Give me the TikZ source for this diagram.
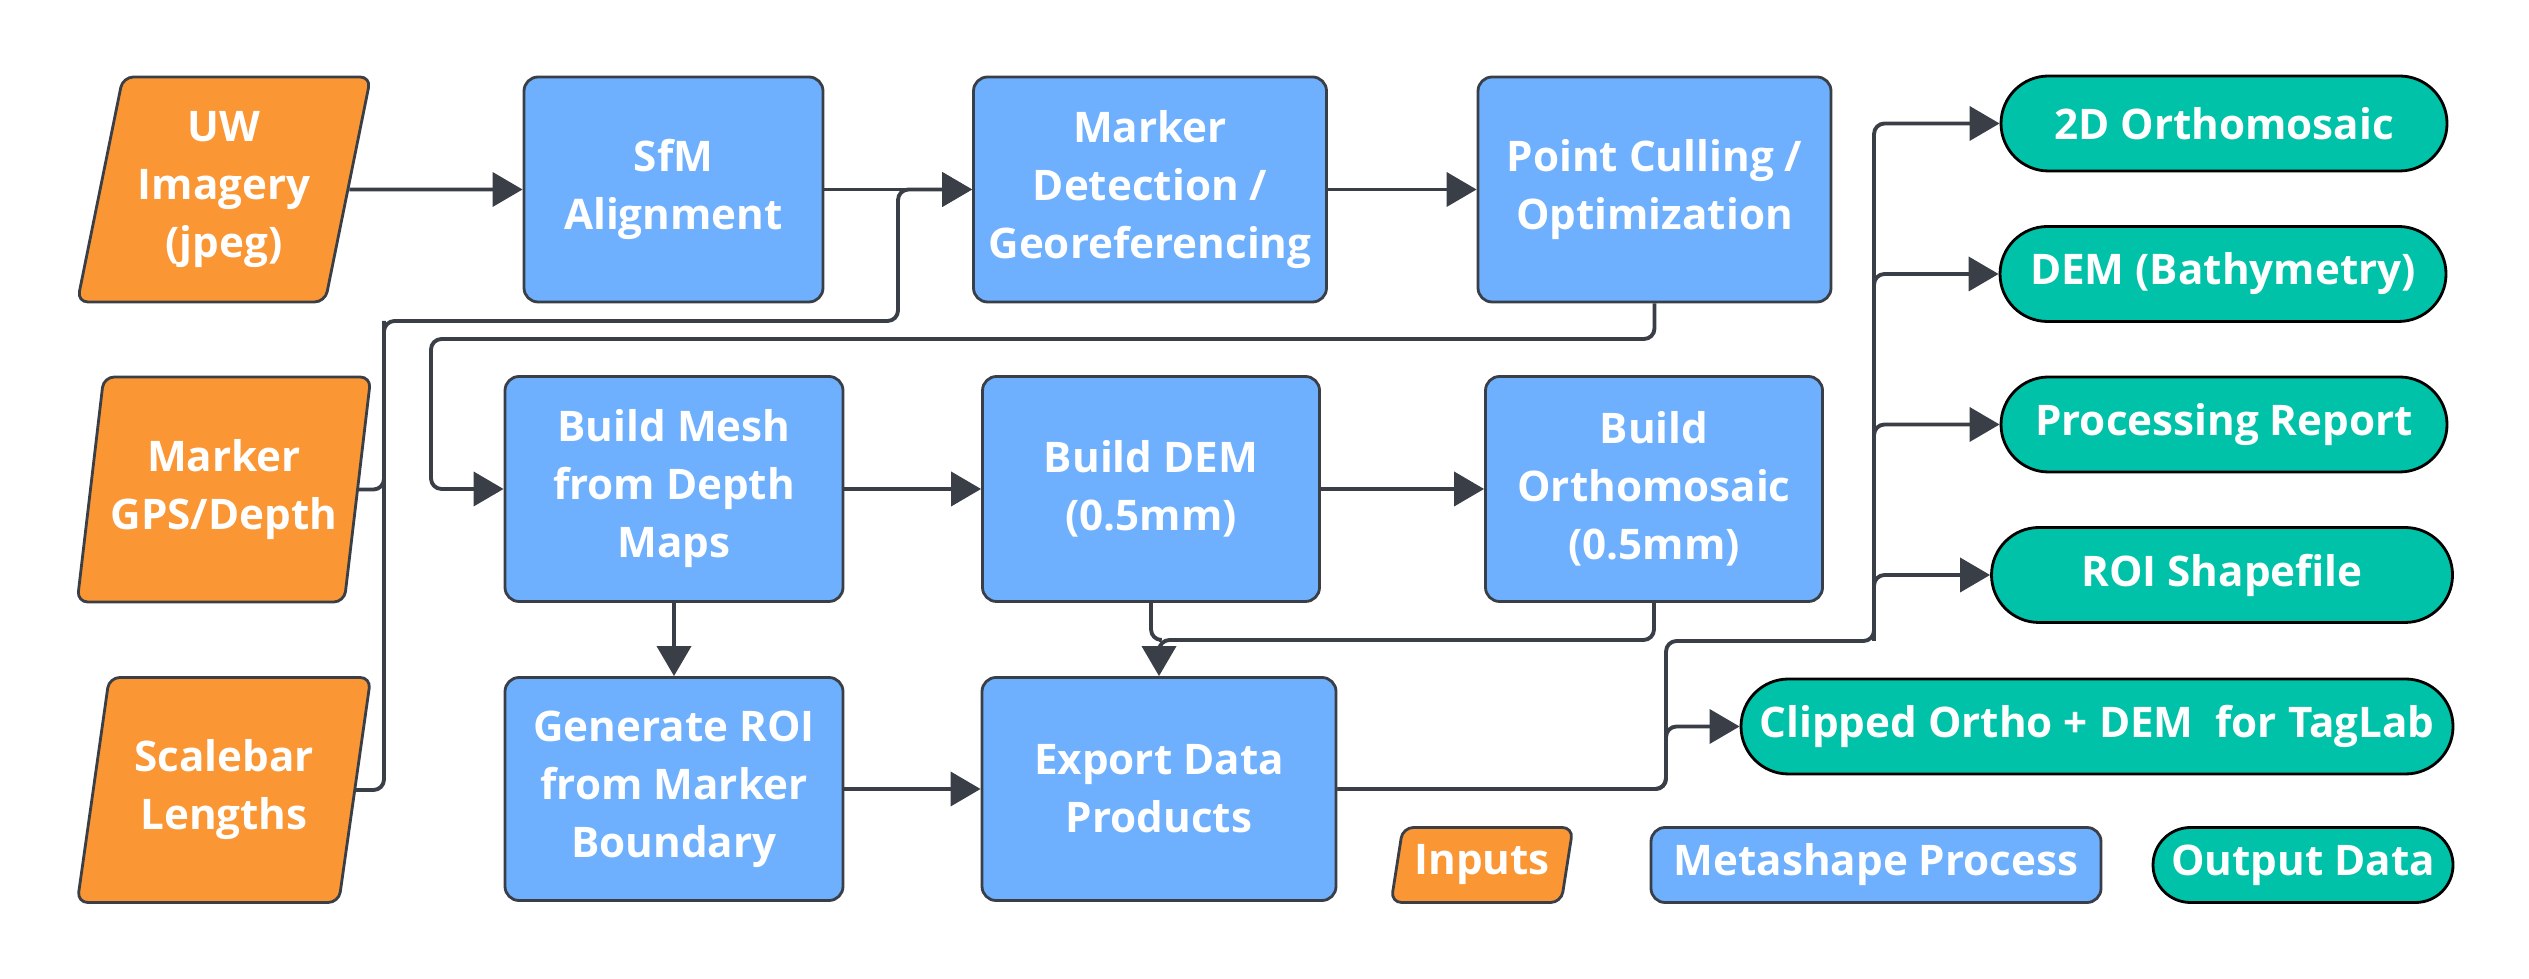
\documentclass[tikz,border=0pt]{standalone}
\usepackage{fontspec}
\setmainfont{Open Sans}
\usetikzlibrary{arrows.meta,shapes.geometric,shapes.misc}
\definecolor{inorange}{HTML}{FA9633}
\definecolor{procblue}{HTML}{6EB0FD}
\definecolor{outteal}{HTML}{00C2A8}
\definecolor{linegray}{HTML}{3A3F47}
\begin{document}
\begin{tikzpicture}[
            font=\fontsize{12}{16.5}\selectfont\bfseries,
            inbox/.style={trapezium, trapezium left angle=76, trapezium right angle=104, trapezium stretches,
                draw=linegray, line width=0.8pt, fill=inorange, rounded corners=3pt, minimum width=2.94cm,
                minimum height=2.25cm, text=white, align=center, inner sep=0pt},
            procbox/.style={rectangle, draw=linegray, line width=0.8pt, fill=procblue, rounded corners=4pt,
                minimum height=2.25cm, text=white, align=center, inner sep=0pt},
            outbox/.style={rounded rectangle, draw=black, line width=0.8pt, fill=outteal,
                minimum height=0.95cm, text=white, align=center, inner sep=0pt},
            flow/.style={draw=linegray, line width=1.1pt, rounded corners=3pt, -{Triangle[length=0.3cm,width=0.34cm]}},
            line/.style={draw=linegray, line width=1.1pt, rounded corners=3pt}
            ]
            \useasboundingbox (0,0) rectangle (25.29,9.79);
            % inputs
            \node[inbox] (uw) at (2.24,7.895) {UW\\Imagery\\(jpeg)};
            \node[inbox] (gps) at (2.24,4.895) {Marker\\GPS/Depth};
            \node[inbox] (scale) at (2.24,1.89) {Scalebar\\Lengths};
            % metashape steps
            \node[procbox, minimum width=2.99cm] (sfm) at (6.735,7.895) {SfM\\Alignment};
            \node[procbox, minimum width=3.53cm] (detect) at (11.50,7.895) {Marker\\Detection /\\Georeferencing};
            \node[procbox, minimum width=3.53cm] (cull) at (16.545,7.895) {Point Culling /\\Optimization};
            \node[procbox, minimum width=3.38cm] (mesh) at (6.74,4.90) {Build Mesh\\from Depth\\Maps};
            \node[procbox, minimum width=3.37cm] (dem) at (11.51,4.90) {Build DEM\\(0.5mm)};
            \node[procbox, minimum width=3.37cm] (ortho) at (16.54,4.90) {Build\\Orthomosaic\\(0.5mm)};
            \node[procbox, minimum width=3.38cm, minimum height=2.23cm] (roi) at (6.74,1.90) {Generate ROI\\from Marker\\Boundary};
            \node[procbox, minimum width=3.54cm, minimum height=2.23cm] (export) at (11.59,1.90) {Export Data\\Products};
            % outputs
            \node[outbox, minimum width=4.46cm] (o1) at (22.24,8.555) {2D Orthomosaic};
            \node[outbox, minimum width=4.46cm] (o2) at (22.23,7.05) {DEM (Bathymetry)};
            \node[outbox, minimum width=4.46cm] (o3) at (22.24,5.545) {Processing Report};
            \node[outbox, minimum width=4.61cm] (o4) at (22.22,4.04) {ROI Shapefile};
            \node[outbox, minimum width=7.12cm] (o5) at (20.97,2.525) {Clipped Ortho + DEM\ \ for TagLab};
            % legend
            \node[inbox, minimum width=1.82cm, minimum height=0.75cm] (lin) at (14.82,1.14) {Inputs};
            \node[procbox, minimum width=4.50cm, minimum height=0.75cm] (lproc) at (18.76,1.14) {Metashape Process};
            \node[outbox, minimum width=3.00cm, minimum height=0.75cm] (lout) at (23.03,1.14) {Output Data};

            \coordinate (inbus) at (3.84,6.58);
            \coordinate (injoin) at (8.98,7.895);
            \coordinate (cullbus) at (4.31,6.40);
            \coordinate (merge) at (11.59,3.39);
            \coordinate (outsplit) at (16.66,3.38);
            \coordinate (trunk) at (18.74,3.38);
            \coordinate (clipjoin) at (16.66,2.525);

            \draw[flow] (uw.east) -- (sfm.west);
            \draw[flow] (sfm.east) -- (detect.west);
            \draw[line] (scale.east) -| (inbus);
            \draw[flow] (gps.east) -| (inbus) -| (injoin) -- (detect.west);
            \draw[flow] (detect.east) -- (cull.west);
            \draw[flow] (cull.south) |- (cullbus) |- (mesh.west);
            \draw[flow] (mesh.east) -- (dem.west);
            \draw[flow] (dem.east) -- (ortho.west);
            \draw[flow] (mesh.south) -- (roi.north);
            \draw[line] (dem.south) |- (merge);
            \draw[flow] (ortho.south) |- (merge) -- (export.north);
            \draw[flow] (roi.east) -- (export.west);
            \draw[flow] (export.east) -| (outsplit) -- (trunk) |- (o1.west);
            \foreach \o in {o2,o3,o4}
                \draw[flow] (trunk) |- (\o.west);
            \draw[flow] (export.east) -| (clipjoin) -- (o5.west);
            \end{tikzpicture}
\end{document}
